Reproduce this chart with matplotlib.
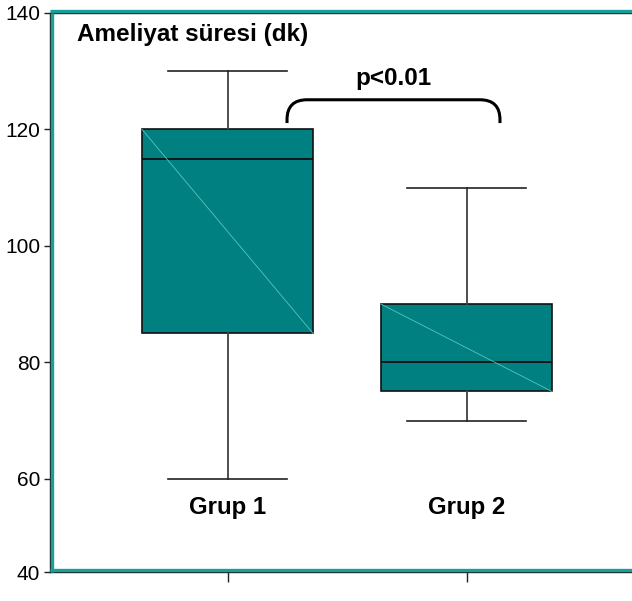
import matplotlib
matplotlib.use("Agg")
import matplotlib.pyplot as plt
from matplotlib.path import Path
from matplotlib.patches import PathPatch
import matplotlib.transforms as mtransforms

# ---- data ----
categories = ["Grup 1", "Grup 2"]
whisker_low = [60, 70]
q1 = [85, 75]
median = [115, 80]
q3 = [120, 90]
whisker_high = [130, 110]

title = "Ameliyat süresi (dk)"
p_text = "p<0.01"
ytick_values = [44, 60, 80, 100, 120, 140]
ytick_labels = ["40", "60", "80", "100", "120", "140"]

plt.rcParams['font.family'] = ['Liberation Sans', 'DejaVu Sans']

fig = plt.figure(figsize=(6.32, 6.01), dpi=100)
ax = fig.add_axes([50/632, 29/601, 582/632, 559/601])

positions = [1, 2]
stats = []
for i, c in enumerate(categories):
    stats.append(dict(label=c, whislo=whisker_low[i], q1=q1[i], med=median[i],
                      q3=q3[i], whishi=whisker_high[i], fliers=[]))

box_w = 0.715
ax.bxp(stats, positions=positions, widths=box_w, patch_artist=True,
       showfliers=False, capwidths=0.5,
       boxprops=dict(facecolor='#008080', edgecolor='#111111', linewidth=1.2),
       medianprops=dict(color='#111111', linewidth=1.3),
       whiskerprops=dict(color='#404040', linewidth=1.3),
       capprops=dict(color='#222222', linewidth=1.2))

# diagonal highlight lines inside boxes
for i, p in enumerate(positions):
    ax.plot([p - box_w/2, p + box_w/2], [q3[i], q1[i]], color='#5cc4c0',
            linewidth=0.6, zorder=3)

ax.set_xlim(1 - 177.5/239, 1 - 177.5/239 + 582/239)
ax.set_ylim(44, 140)

ax.set_yticks(ytick_values)
ax.set_yticklabels(ytick_labels)
ax.set_xticks(positions)
ax.set_xticklabels([])
ax.tick_params(axis='y', length=4, width=1, color='#222222', labelsize=15, pad=3)
ax.tick_params(axis='x', length=7, width=1, color='#222222')

# frame
for s in ['left', 'top', 'bottom']:
    ax.spines[s].set_color('#222222')
    ax.spines[s].set_linewidth(1.0)
ax.spines['right'].set_visible(False)

teal = '#17a09a'
off = lambda dx, dy: ax.transAxes + mtransforms.ScaledTranslation(dx/100, dy/100, fig.dpi_scale_trans)
ax.plot([0, 0], [0, 1], transform=off(2.2, 0), color=teal, lw=2.4, clip_on=False, zorder=5, solid_capstyle='butt')
ax.plot([0, 1], [1, 1], transform=off(0, 1.8), color=teal, lw=2.4, clip_on=False, zorder=5, solid_capstyle='butt')
ax.plot([0, 1], [0, 0], transform=off(0, 2.0), color=teal, lw=2.4, clip_on=False, zorder=5, solid_capstyle='butt')

# texts
ax.text(27/582, (572-35)/559, title, transform=ax.transAxes, fontsize=17.5,
        fontweight='bold', ha='left', va='center')
ax.text(1.6925, 128.8, p_text, fontsize=17.5, fontweight='bold', ha='center', va='center')
for p, c in zip(positions, categories):
    ax.text(p, 55.0, c, fontsize=17.3, fontweight='bold', ha='center', va='center')

# bracket
bx0, bx1 = 1.249, 2.14
by0, byt = 121.1, 125.1
rx, ry = 0.084, 3.4
verts = [(bx0, by0), (bx0, byt - ry), (bx0, byt), (bx0 + rx, byt),
         (bx1 - rx, byt), (bx1, byt), (bx1, byt - ry), (bx1, by0)]
codes = [Path.MOVETO, Path.LINETO, Path.CURVE3, Path.CURVE3,
         Path.LINETO, Path.CURVE3, Path.CURVE3, Path.LINETO]
ax.add_patch(PathPatch(Path(verts, codes), facecolor='none', edgecolor='black',
                       lw=2.2, capstyle='butt', joinstyle='round'))

fig.savefig("out.png", dpi=100)
